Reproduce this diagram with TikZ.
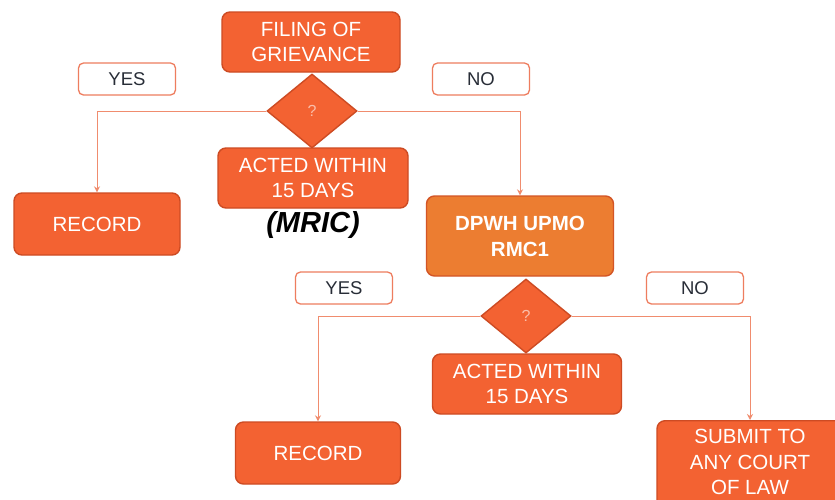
\documentclass[tikz,border=0pt]{standalone}
\usepackage{fontspec}
\setmainfont{Liberation Sans}
\usetikzlibrary{shapes.geometric,arrows.meta}
\definecolor{boxfill}{RGB}{243,98,50}
\definecolor{boxline}{RGB}{205,75,35}
\definecolor{dpwhfill}{RGB}{236,125,49}
\definecolor{connline}{RGB}{240,140,110}
\definecolor{lblline}{RGB}{238,125,95}
\definecolor{lbltext}{RGB}{40,45,55}
\definecolor{qmark}{RGB}{250,190,170}
\tikzset{
  stepbox/.style={draw=boxline, fill=boxfill, line width=1.4pt, rounded corners=8pt,
    text=white, align=center, inner sep=0pt,
    font=\fontsize{20.5}{25}\selectfont},
  dpwhbox/.style={stepbox, fill=dpwhfill, draw=boxline!80!dpwhfill, font=\bfseries\fontsize{20.5}{26}\selectfont},
  decision/.style={diamond, draw=boxline, fill=boxfill, line width=1.4pt, inner sep=0pt,
    minimum width=90pt, minimum height=74pt, aspect=1.22, text=qmark,
    font=\fontsize{16}{18}\selectfont},
  lbl/.style={draw=lblline, fill=white, line width=1.3pt, rounded corners=5pt,
    minimum width=97pt, minimum height=32pt, inner sep=0pt, text=lbltext,
    font=\fontsize{18.5}{20}\selectfont},
  conn/.style={draw=connline, line width=1pt, -{Stealth[length=6pt,width=6pt]}},
}
\begin{document}
\begin{tikzpicture}[x=1pt,y=-1pt]
\useasboundingbox (0,0) rectangle (835,499);
\clip (0,0) rectangle (835,499);
\fill[white] (0,0) rectangle (835,499);

% top section
\node[stepbox, minimum width=178pt, minimum height=60pt] (file) at (311,42) {FILING OF\\GRIEVANCE};
\node[decision] (d1) at (312,111) {?};
\node[stepbox, minimum width=190pt, minimum height=60pt] (act1) at (313,178) {ACTED WITHIN\\15 DAYS};
\node[font=\bfseries\itshape\fontsize{29}{31}\selectfont, text=black] (mric) at (313,225) {(MRIC)};

\node[lbl] (yes1) at (127,79) {YES};
\node[lbl] (no1) at (481,79) {NO};

\node[stepbox, minimum width=166pt, minimum height=62pt] (rec1) at (97,224) {RECORD};
\node[dpwhbox, minimum width=187pt, minimum height=80pt] (dpwh) at (520,236) {DPWH UPMO\\RMC1};

% lower section
\node[decision] (d2) at (526,316) {?};
\node[stepbox, minimum width=189pt, minimum height=60pt] (act2) at (527,384) {ACTED WITHIN\\15 DAYS};

\node[lbl] (yes2) at (344,288) {YES};
\node[lbl] (no2) at (695,288) {NO};

\node[stepbox, minimum width=165pt, minimum height=62pt] (rec2) at (318,453) {RECORD};
\node[stepbox, minimum width=186pt, minimum height=96pt, anchor=north] (court) at (750,420) {};
\node[text=white, align=center, anchor=north, font=\fontsize{20.5}{25.5}\selectfont] (courttxt) at (750,426) {SUBMIT TO\\ANY COURT\\OF LAW};

% connectors
\draw[conn] (d1.west) -| (rec1.north);
\draw[conn] (d1.east) -| (dpwh.north);
\draw[conn] (d2.west) -| (rec2.north);
\draw[conn] (d2.east) -| (court.north);
\end{tikzpicture}
\end{document}
